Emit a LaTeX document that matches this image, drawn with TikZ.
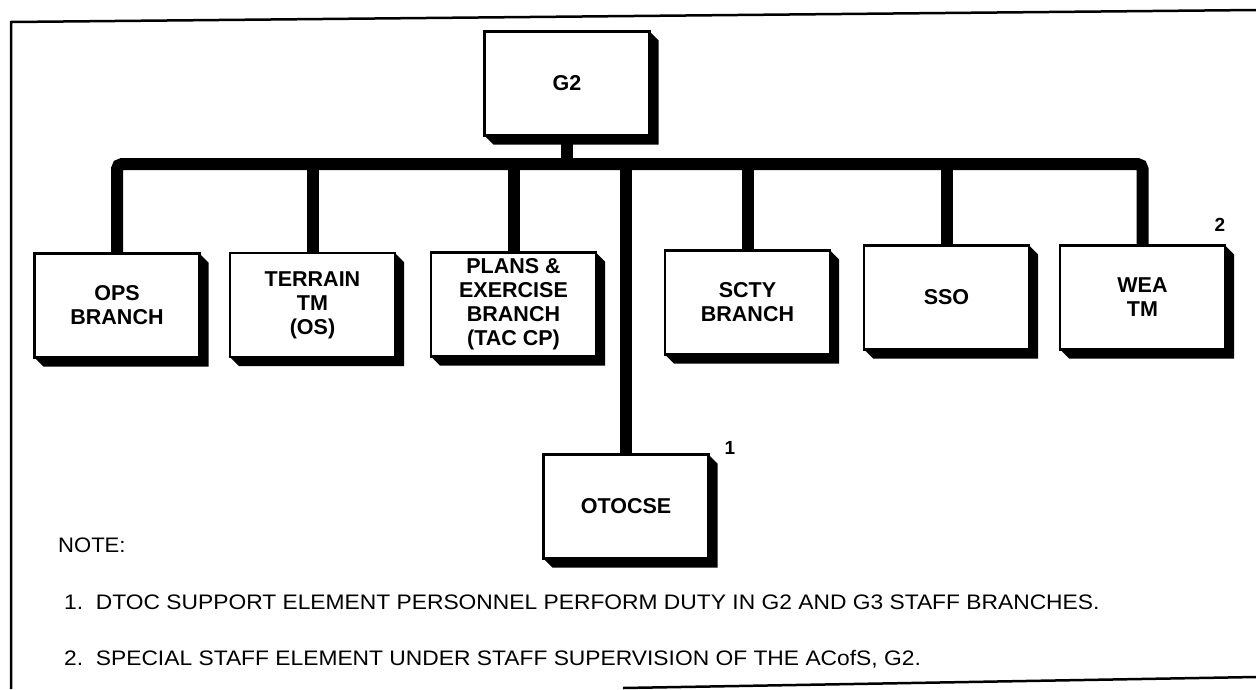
\documentclass[tikz,border=0pt]{standalone}
\usepackage{fontspec}
\setmainfont{Liberation Sans}
\usetikzlibrary{calc,backgrounds}
\begin{document}
\begin{tikzpicture}[x=1pt,y=-1pt,
  orgbox/.style={draw, line width=2.2pt, fill=white, minimum width=165pt, minimum height=104pt,
    inner sep=0pt, outer sep=0pt, align=center,
    font=\fontsize{21.5}{24}\selectfont\bfseries},
  bus/.style={line width=12pt},
  frameline/.style={line width=2.5pt},
  notetext/.style={anchor=west, inner sep=0pt, font=\fontsize{21}{24}\selectfont},
  marker/.style={inner sep=0pt, font=\fontsize{19}{22}\selectfont\bfseries}]
\useasboundingbox (0,0) rectangle (1256,689);
% frame
\draw[frameline] (11,689) -- (11,22) -- (1256,10);
\draw[frameline] (623,688) -- (1256,677);
% boxes
\node[orgbox] (g2)   at (567,83.5)  {G2};
\node[orgbox] (ops)  at (117,305.5) {OPS\\BRANCH};
\node[orgbox] (terr) at (312.5,305) {TERRAIN\\TM\\(OS)};
\node[orgbox] (plans) at (513.5,304.5) {PLANS \&\\EXERCISE\\BRANCH\\(TAC CP)};
\node[orgbox] (scty) at (747.5,302.5) {SCTY\\BRANCH};
\node[orgbox] (sso)  at (946.5,297.5) {SSO};
\node[orgbox] (wea)  at (1142.5,297.5) {WEA\\TM};
\node[orgbox] (oto)  at (626,506.5) {OTOCSE};
% shadows
\foreach \n in {g2,ops,terr,plans,scty,sso,wea,oto}{
  \fill (\n.north east) -- ++(9,9) -- ($(\n.south east)+(9,9)$) -- ($(\n.south west)+(9,9)$)
     -- (\n.south west) -- (\n.south east) -- cycle;
}
% connectors
\coordinate (busy) at (0,164);
\begin{scope}[on background layer]
\draw[bus, rounded corners=5pt] (ops.north) -- (ops.north |- busy) -- (wea.north |- busy) -- (wea.north);
\draw[bus] (g2.south) -- (g2.south |- busy);
\foreach \n in {terr,plans,scty,sso,oto}{\draw[bus] (\n.north) -- (\n.north |- busy);}
\end{scope}
% markers
\node[marker] (m1) at (730,448) {1};
\node[marker] (m2) at (1220,225) {2};
% notes
\node[notetext] (note) at (58,545) {\scalebox{1.05}[1]{NOTE:}};
\node[notetext] (n1) at (64,602) {\scalebox{1.086}[1]{1.\ \ DTOC SUPPORT ELEMENT PERSONNEL PERFORM DUTY IN G2 AND G3 STAFF BRANCHES.}};
\node[notetext] (n2) at (64,659) {\scalebox{1.086}[1]{2.\ \ SPECIAL STAFF ELEMENT UNDER STAFF SUPERVISION OF THE ACofS, G2.}};
\end{tikzpicture}
\end{document}
